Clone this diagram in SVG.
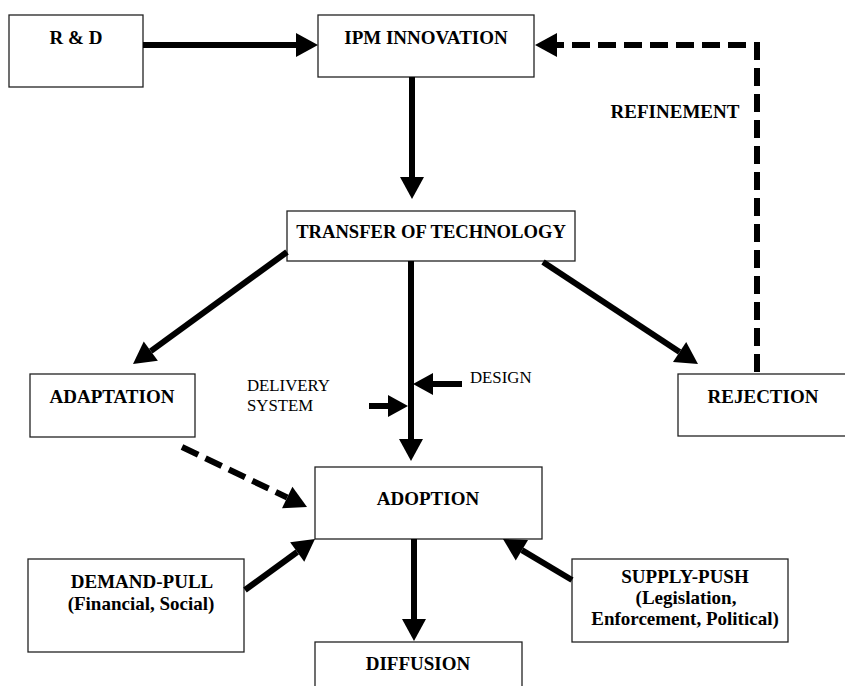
<svg xmlns="http://www.w3.org/2000/svg" width="845" height="686" viewBox="0 0 845 686">
<style>
.box{fill:#fff;stroke:#222;stroke-width:1.3}
.lbl{font-weight:bold;font-size:19px;fill:#000;text-anchor:middle}
.plain{font-size:16.8px;fill:#000}
.arr{fill:none;stroke:#000;stroke-width:6;marker-end:url(#ah)}
.sm{marker-end:url(#ahs)}
.dash{stroke-dasharray:18 8}
</style>
<defs>
<marker id="ah" markerUnits="userSpaceOnUse" markerWidth="22" markerHeight="24" refX="0" refY="12" orient="auto" overflow="visible">
<path d="M0,0 L22,12 L0,24 Z" fill="#000"/>
</marker>
<marker id="ahs" markerUnits="userSpaceOnUse" markerWidth="20" markerHeight="22" refX="0" refY="11" orient="auto" overflow="visible">
<path d="M0,0 L20,11 L0,22 Z" fill="#000"/>
</marker>
</defs>
<rect width="845" height="686" fill="#fff"/>
<g font-family="Liberation Serif, Times New Roman, serif">
<g id="rd"><rect class="box" x="9" y="15" width="134" height="72"/><text class="lbl" x="76" y="44">R &amp; D</text></g>
<g id="ipm"><rect class="box" x="318" y="15" width="216" height="62"/><text class="lbl" x="426" y="44">IPM INNOVATION</text></g>
<g id="transfer"><rect class="box" x="287" y="211" width="288" height="50"/><text class="lbl" x="431" y="238" style="font-size:18.6px">TRANSFER OF TECHNOLOGY</text></g>
<g id="adaptation"><rect class="box" x="30" y="374" width="165" height="63"/><text class="lbl" x="112" y="403">ADAPTATION</text></g>
<g id="rejection"><rect class="box" x="678" y="374" width="180" height="62"/><text class="lbl" x="763" y="403">REJECTION</text></g>
<g id="adoption"><rect class="box" x="315" y="467" width="227" height="72"/><text class="lbl" x="428" y="505">ADOPTION</text></g>
<g id="demand"><rect class="box" x="28" y="559" width="216" height="93"/><text class="lbl" x="142" y="588">DEMAND-PULL</text><text class="lbl" x="141" y="610">(Financial, Social)</text></g>
<g id="supply"><rect class="box" x="572" y="559" width="216" height="83"/><text class="lbl" x="685" y="583">SUPPLY-PUSH</text><text class="lbl" x="686" y="604">(Legislation,</text><text class="lbl" x="685" y="625">Enforcement, Political)</text></g>
<g id="diffusion"><rect class="box" x="315" y="642" width="207" height="60"/><text class="lbl" x="418" y="670">DIFFUSION</text></g>
<g id="labels">
<text class="lbl" x="675" y="118">REFINEMENT</text>
<text class="plain" x="247" y="391">DELIVERY</text>
<text class="plain" x="247" y="411">SYSTEM</text>
<text class="plain" x="470" y="383">DESIGN</text>
</g>
</g>
<g id="connectors">
<path class="arr" d="M143,45 L296,45"/>
<path class="arr" d="M412,77 L412,177"/>
<path class="arr dash" d="M757,372 L757,45 L557,45"/>
<path class="arr" d="M287,252 L150.8,351.1"/>
<path class="arr" d="M543,262 L679.6,351.9"/>
<path class="arr" d="M411,261 L411,439"/>
<path class="arr sm" d="M462,384 L433,384"/>
<path class="arr sm" d="M369,406 L388,406"/>
<path class="arr dash" d="M182,447 L287.2,497.5"/>
<path class="arr" d="M245,590 L297.2,552"/>
<path class="arr" d="M572,580 L521.9,550.2"/>
<path class="arr" d="M414,539 L414,619"/>
</g>
</svg>
